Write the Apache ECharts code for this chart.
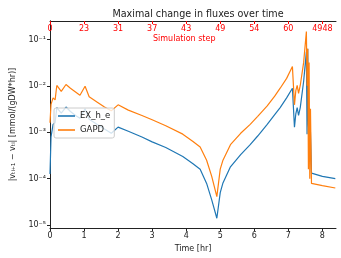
<!DOCTYPE html>
<html>
<head>
<meta charset="utf-8">
<script src="https://cdn.jsdelivr.net/npm/echarts@6/dist/echarts.min.js"></script>
<style>
  html, body { margin: 0; padding: 0; background: #fff; }
  #chart { width: 341px; height: 258px; }
</style>
</head>
<body>
<div id="chart"></div>
<script>
// time in hours, shared by both series
const timeHr = [0, 0.03, 0.09, 0.15, 0.2, 0.33, 0.47, 0.6, 0.75, 0.88, 1.03, 1.15, 1.4, 1.6, 1.8,
  2.0, 2.3, 2.7, 3.0, 3.4, 3.9, 4.2, 4.41, 4.6, 4.75, 4.9, 5.0, 5.08, 5.3, 5.6, 5.88, 6.1, 6.38,
  6.6, 6.76, 6.95, 7.12, 7.18, 7.22, 7.26, 7.3, 7.35, 7.45, 7.53, 7.55, 7.57, 7.59, 7.61, 7.63,
  7.65, 7.68, 7.7, 8.0, 8.38];

const exHE = [1.26e-4, 7.9e-4, 1.48e-3, 1.6e-3, 3.4e-3, 2.6e-3, 3.5e-3, 2.8e-3, 2.3e-3, 2.0e-3,
  3.2e-3, 1.9e-3, 1.45e-3, 1.17e-3, 9.5e-4, 1.29e-3, 1.05e-3, 7.9e-4, 6.2e-4, 4.7e-4, 3.0e-4,
  2.1e-4, 1.6e-4, 7.9e-5, 3.5e-5, 1.4e-5, 5.0e-5, 8.1e-5, 1.8e-4, 3.3e-4, 5.4e-4, 8.3e-4,
  1.48e-3, 2.4e-3, 3.4e-3, 5.5e-3, 8.9e-3, 1.29e-3, 2.5e-3, 3.4e-3, 2.3e-3, 3.4e-3, 1.26e-2,
  5.4e-2, 9.1e-4, 6.3e-2, 1.48e-3, 7.9e-4, 1.48e-3, 1.0e-3, 1.32e-4, 1.26e-4, 1.12e-4, 1.0e-4];

const gapd = [1.6e-3, 4.0e-3, 5.5e-3, 5.0e-3, 1.02e-2, 7.6e-3, 1.07e-2, 8.9e-3, 7.4e-3, 6.3e-3,
  9.8e-3, 5.8e-3, 4.4e-3, 3.5e-3, 2.9e-3, 3.9e-3, 3.0e-3, 2.3e-3, 1.86e-3, 1.38e-3, 9.1e-4,
  6.3e-4, 4.8e-4, 2.5e-4, 1.12e-4, 4.1e-5, 1.6e-4, 2.5e-4, 5.4e-4, 9.5e-4, 1.48e-3, 2.2e-3,
  3.7e-3, 6.0e-3, 8.9e-3, 1.45e-2, 2.6e-2, 3.9e-3, 7.9e-3, 1.02e-2, 6.9e-3, 1.02e-2, 3.2e-2,
  1.48e-1, 1.0e-2, 6.3e-2, 1.6e-4, 3.2e-2, 1.0e-4, 3.2e-3, 7.9e-5, 7.6e-5, 7.1e-5, 6.3e-5];

// top axis: simulation step shown at each whole hour
const stepLabels = ["0", "23", "31", "37", "43", "49", "54", "60", "4948"];

const FONT = "DejaVu Sans";
const SUP = { "-": "⁻", "0": "⁰", "1": "¹", "2": "²", "3": "³", "4": "⁴", "5": "⁵" };

function pow10Label(v) {
  const e = Math.log10(v);
  if (Math.abs(e - Math.round(e)) > 1e-6) return "";
  return "10" + String(Math.round(e)).split("").map(c => SUP[c] || c).join("");
}

const chart = echarts.init(document.getElementById("chart"));

chart.setOption({
  animation: false,
  title: {
    text: "Maximal change in fluxes over time",
    left: 193,
    top: 4,
    textAlign: "center",
    textStyle: { fontFamily: FONT, fontSize: 9.6, fontWeight: "normal", color: "#222" },
  },
  // top axis name sits inside the plot, under the tick labels
  graphic: [
    {
      type: "text",
      left: 193 - 40,
      top: 35,
      style: { text: "Simulation step", fontFamily: FONT, fontSize: 8, fill: "#ff0000", width: 80, align: "center" },
    },
  ],
  legend: {
    data: ["EX_h_e", "GAPD"],
    orient: "vertical",
    left: 54,
    top: 108,
    padding: [3, 4, 3, 4],
    itemGap: 4,
    itemWidth: 17,
    itemHeight: 1.6,
    icon: "rect",
    backgroundColor: "rgba(255,255,255,0.8)",
    borderColor: "#ccc",
    borderWidth: 1,
    borderRadius: 2,
    textStyle: { fontFamily: FONT, fontSize: 8.5, color: "#222", lineHeight: 10 },
  },
  grid: { left: 50, right: 5, top: 21, bottom: 25 },
  xAxis: [
    {
      type: "value",
      min: 0,
      max: 8.4,
      interval: 1,
      name: "Time [hr]",
      nameLocation: "middle",
      nameGap: 14,
      nameTextStyle: { fontFamily: FONT, fontSize: 8, color: "#222" },
      axisLine: { lineStyle: { color: "#222" } },
      axisTick: { length: 3, lineStyle: { color: "#222" } },
      axisLabel: {
        fontFamily: FONT, fontSize: 8, color: "#222", margin: 4,
        showMaxLabel: false,
        formatter: v => (Number.isInteger(v) ? String(v) : ""),
      },
      splitLine: { show: false },
    },
    {
      type: "value",
      position: "top",
      min: 0,
      max: 8.4,
      interval: 1,
      axisLine: { lineStyle: { color: "#222" } },
      axisTick: { inside: true, length: 3, lineStyle: { color: "#ff0000" } },
      axisLabel: {
        inside: true, fontFamily: FONT, fontSize: 8, color: "#ff0000", margin: 4,
        showMaxLabel: false,
        formatter: v => (Number.isInteger(v) ? (stepLabels[v] || "") : ""),
      },
      splitLine: { show: false },
    },
  ],
  yAxis: [
    {
      type: "log",
      logBase: 10,
      min: 8.6e-6,
      max: 0.25,
      name: "|vₜᵢ₊₁ − vₜᵢ| [mmol/(gDW*hr)]",
      nameLocation: "middle",
      nameGap: 33,
      nameTextStyle: { fontFamily: FONT, fontSize: 8, color: "#222" },
      axisLine: { show: true, lineStyle: { color: "#222" } },
      axisTick: { show: true, length: 3, lineStyle: { color: "#222" } },
      axisLabel: {
        fontFamily: FONT, fontSize: 8, color: "#222", margin: 4,
        showMinLabel: false, showMaxLabel: false,
        formatter: pow10Label,
      },
      splitLine: { show: false },
    },
    {
      type: "log",
      position: "right",
      min: 8.6e-6,
      max: 0.25,
      axisLine: { show: true, lineStyle: { color: "#222" } },
      axisTick: { show: false },
      axisLabel: { show: false },
      splitLine: { show: false },
    },
  ],
  series: [
    {
      name: "EX_h_e",
      type: "line",
      xAxisIndex: 0,
      yAxisIndex: 0,
      symbol: "none",
      lineStyle: { color: "#1f77b4", width: 1.2 },
      itemStyle: { color: "#1f77b4" },
      data: timeHr.map((t, i) => [t, exHE[i]]),
    },
    {
      name: "GAPD",
      type: "line",
      xAxisIndex: 0,
      yAxisIndex: 0,
      symbol: "none",
      lineStyle: { color: "#ff7f0e", width: 1.2 },
      itemStyle: { color: "#ff7f0e" },
      data: timeHr.map((t, i) => [t, gapd[i]]),
    },
  ],
});
</script>
</body>
</html>
